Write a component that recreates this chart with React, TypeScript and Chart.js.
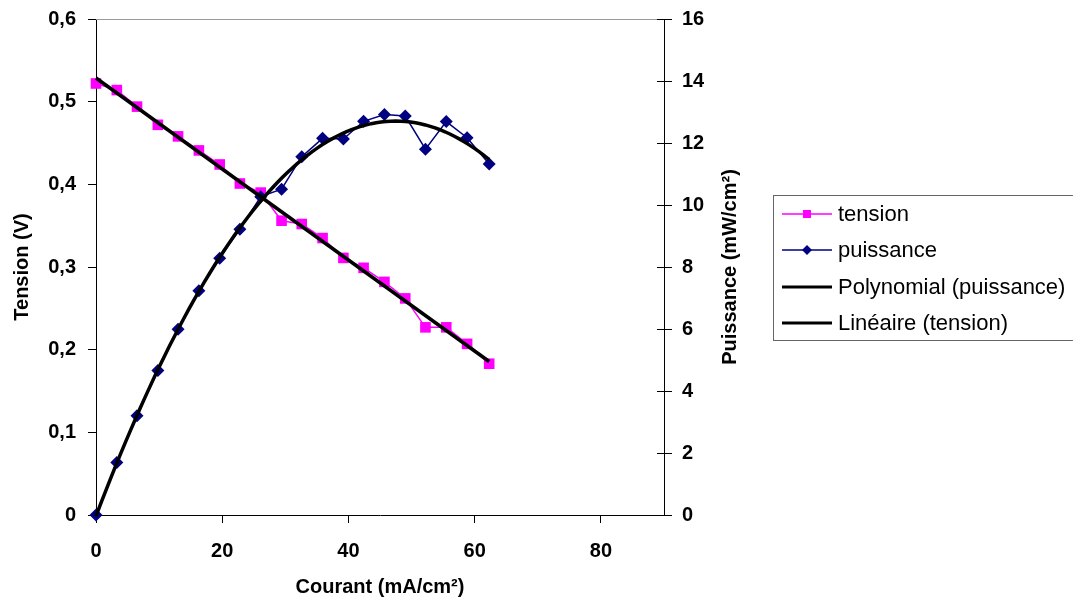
import React, { useEffect, useRef } from "react";
import { Chart, registerables } from "chart.js";

Chart.register(...registerables);

// ---- Data ----
const courant = [0, 3.3, 6.5, 9.8, 13.0, 16.3, 19.6, 22.8, 26.1, 29.4, 32.6, 35.9, 39.2, 42.4, 45.7, 49.0, 52.2, 55.5, 58.8, 62.3];
const tension = [0.522, 0.514, 0.494, 0.472, 0.458, 0.441, 0.424, 0.401, 0.390, 0.356, 0.352, 0.335, 0.311, 0.299, 0.282, 0.262, 0.227, 0.227, 0.207, 0.183];
const puissance = [0, 1.69, 3.20, 4.66, 5.99, 7.23, 8.28, 9.22, 10.27, 10.51, 11.56, 12.15, 12.13, 12.70, 12.92, 12.87, 11.80, 12.69, 12.17, 11.32];

const seriesLabels = ["tension", "puissance", "Polynomial (puissance)", "Linéaire (tension)"];
const xTitle = "Courant (mA/cm²)";
const yTitle = "Tension (V)";
const y1Title = "Puissance (mW/cm²)";
const xRange = [0, 90];
const yRange = [0, 0.6];
const y1Range = [0, 16];
const xStep = 20;
const yStep = 0.1;
const y1Step = 2;

// ---- Trendlines (least squares fits of the data above) ----
function linearFit(xs: number[], ys: number[]) {
  const n = xs.length;
  let sx = 0, sy = 0, sxx = 0, sxy = 0;
  for (let i = 0; i < n; i++) {
    sx += xs[i]; sy += ys[i]; sxx += xs[i] * xs[i]; sxy += xs[i] * ys[i];
  }
  const b = (n * sxy - sx * sy) / (n * sxx - sx * sx);
  const a = (sy - b * sx) / n;
  return (x: number) => a + b * x;
}

function quadFit(xs: number[], ys: number[]) {
  const S = [0, 0, 0, 0, 0];
  const T = [0, 0, 0];
  for (let i = 0; i < xs.length; i++) {
    let p = 1;
    for (let k = 0; k < 5; k++) { S[k] += p; if (k < 3) T[k] += p * ys[i]; p *= xs[i]; }
  }
  const M = [
    [S[0], S[1], S[2], T[0]],
    [S[1], S[2], S[3], T[1]],
    [S[2], S[3], S[4], T[2]],
  ];
  for (let c = 0; c < 3; c++) {
    let piv = c;
    for (let r = c + 1; r < 3; r++) if (Math.abs(M[r][c]) > Math.abs(M[piv][c])) piv = r;
    [M[c], M[piv]] = [M[piv], M[c]];
    for (let r = 0; r < 3; r++) {
      if (r === c) continue;
      const f = M[r][c] / M[c][c];
      for (let k = c; k < 4; k++) M[r][k] -= f * M[c][k];
    }
  }
  const c0 = M[0][3] / M[0][0], c1 = M[1][3] / M[1][1], c2 = M[2][3] / M[2][2];
  return (x: number) => c0 + c1 * x + c2 * x * x;
}

function sampleTrend(fn: (x: number) => number, xs: number[], n: number) {
  const lo = Math.min(...xs), hi = Math.max(...xs);
  const out: { x: number; y: number }[] = [];
  for (let i = 0; i <= n; i++) {
    const x = lo + ((hi - lo) * i) / n;
    out.push({ x, y: fn(x) });
  }
  return out;
}

const FONT = '"Liberation Sans", Arial, sans-serif';

const decorPlugin = {
  id: "decor",
  beforeDatasetsDraw(chart: any) {
    const { ctx, chartArea } = chart;
    ctx.save();
    ctx.strokeStyle = "#9a9a9a";
    ctx.lineWidth = 1;
    ctx.beginPath();
    ctx.moveTo(chartArea.left, chartArea.top + 0.5);
    ctx.lineTo(chartArea.right, chartArea.top + 0.5);
    ctx.stroke();
    // inner half of right-axis tick marks
    const s = chart.scales.y1;
    ctx.strokeStyle = "#000";
    s.ticks.forEach((t: any) => {
      const y = Math.round(s.getPixelForValue(t.value)) + 0.5;
      ctx.beginPath();
      ctx.moveTo(chartArea.right - 7, y);
      ctx.lineTo(chartArea.right, y);
      ctx.stroke();
    });
    ctx.restore();
  },
  afterDraw(chart: any) {
    const { ctx, chartArea } = chart;
    // right axis title, reading bottom-to-top
    ctx.save();
    ctx.translate(chartArea.right + 66, (chartArea.top + chartArea.bottom) / 2);
    ctx.rotate(-Math.PI / 2);
    ctx.font = `bold 20px ${FONT}`;
    ctx.fillStyle = "#000";
    ctx.textAlign = "center";
    ctx.textBaseline = "middle";
    ctx.fillText(y1Title, 0, 0);
    ctx.restore();

    const bx = chartArea.right + 109;
    const by = 195;
    const bw = 320;
    const bh = 145;
    const row0 = by + 19;
    const rowH = 36.4;
    ctx.save();
    ctx.strokeStyle = "#666";
    ctx.lineWidth = 1;
    ctx.strokeRect(bx + 0.5, by + 0.5, bw, bh);
    const ds = chart.data.datasets;
    const order = [0, 1, 2, 3];
    order.forEach((di, i) => {
      const d = ds[di];
      const y = Math.round(row0 + i * rowH);
      ctx.strokeStyle = d.borderColor;
      ctx.lineWidth = d.legendWidth;
      ctx.beginPath();
      ctx.moveTo(bx + 9, y);
      ctx.lineTo(bx + 59, y);
      ctx.stroke();
      const cx = bx + 34;
      if (d.pointStyle === "rect") {
        ctx.fillStyle = d.pointBackgroundColor;
        ctx.fillRect(cx - 4, y - 4, 8, 8);
      } else if (d.pointStyle === "rectRot") {
        ctx.fillStyle = d.pointBackgroundColor;
        ctx.beginPath();
        ctx.moveTo(cx, y - 5);
        ctx.lineTo(cx + 5, y);
        ctx.lineTo(cx, y + 5);
        ctx.lineTo(cx - 5, y);
        ctx.closePath();
        ctx.fill();
      }
      ctx.fillStyle = "#000";
      ctx.font = `22px ${FONT}`;
      ctx.textBaseline = "middle";
      ctx.textAlign = "left";
      ctx.fillText(d.label, bx + 65, y + 1);
    });
    ctx.restore();
  },
};

export default function App() {
  const ref = useRef<HTMLCanvasElement>(null);

  useEffect(() => {
    if (!ref.current) return;
    const linFn = linearFit(courant, tension);
    const polyFn = quadFit(courant, puissance);
    const tickFont = { family: FONT, size: 20, weight: "bold" as const };
    const titleFont = { family: FONT, size: 20, weight: "bold" as const };

    const chart = new Chart(ref.current, {
      type: "line",
      data: {
        datasets: [
          {
            label: seriesLabels[0],
            data: courant.map((x, i) => ({ x, y: tension[i] })),
            yAxisID: "y",
            borderColor: "#FF00FF",
            backgroundColor: "#FF00FF",
            pointBackgroundColor: "#FF00FF",
            pointBorderColor: "#FF00FF",
            pointStyle: "rect",
            pointRadius: 7.5,
            pointBorderWidth: 0,
            borderWidth: 1.5,
            tension: 0,
            clip: false,
            order: 3,
            legendWidth: 1.5,
          } as any,
          {
            label: seriesLabels[1],
            data: courant.map((x, i) => ({ x, y: puissance[i] })),
            yAxisID: "y1",
            borderColor: "#000080",
            backgroundColor: "#000080",
            pointBackgroundColor: "#000080",
            pointBorderColor: "#000080",
            pointStyle: "rectRot",
            pointRadius: 6.5,
            pointBorderWidth: 0,
            borderWidth: 1.5,
            tension: 0,
            clip: false,
            order: 2,
            legendWidth: 1.5,
          } as any,
          {
            label: seriesLabels[2],
            data: sampleTrend(polyFn, courant, 80),
            yAxisID: "y1",
            borderColor: "#000000",
            borderWidth: 3.5,
            pointRadius: 0,
            tension: 0,
            clip: false,
            order: 1,
            legendWidth: 3,
          } as any,
          {
            label: seriesLabels[3],
            data: sampleTrend(linFn, courant, 1),
            yAxisID: "y",
            borderColor: "#000000",
            borderWidth: 3.5,
            pointRadius: 0,
            tension: 0,
            clip: false,
            order: 0,
            legendWidth: 3,
          } as any,
        ],
      },
      options: {
        responsive: true,
        maintainAspectRatio: false,
        animation: false,
        events: [],
        layout: { padding: { left: 0, top: 19, right: 319, bottom: 0 } },
        plugins: { legend: { display: false }, tooltip: { enabled: false } },
        scales: {
          x: {
            type: "linear",
            position: "bottom",
            min: xRange[0],
            max: xRange[1],
            ticks: {
              stepSize: xStep,
              includeBounds: false,
              color: "#000",
              font: tickFont,
              padding: 16,
              maxRotation: 0,
              autoSkip: false,
            },
            grid: { drawOnChartArea: false, drawTicks: true, tickLength: 8, color: "#000", lineWidth: 1 },
            border: { display: true, color: "#000", width: 1 },
            title: { display: true, text: xTitle, color: "#000", font: titleFont, padding: { top: 0, bottom: 4 } },
            afterFit: (s: any) => { s.height = 88; s.paddingLeft = 0; s.paddingRight = 0; },
          },
          y: {
            type: "linear",
            position: "left",
            min: yRange[0],
            max: yRange[1],
            ticks: {
              stepSize: yStep,
              color: "#000",
              font: tickFont,
              padding: 12,
              callback: (v: any) => (Number(v) === 0 ? "0" : Number(v).toFixed(1).replace(".", ",")),
            },
            grid: { drawOnChartArea: false, drawTicks: true, tickLength: 8, color: "#000", lineWidth: 1 },
            border: { display: true, color: "#000", width: 1 },
            title: { display: true, text: yTitle, color: "#000", font: titleFont, padding: { top: 10, bottom: 0 } },
            afterFit: (s: any) => { s.width = 96; s.paddingTop = 0; s.paddingBottom = 0; },
          },
          y1: {
            type: "linear",
            position: "right",
            min: y1Range[0],
            max: y1Range[1],
            ticks: {
              stepSize: y1Step,
              color: "#000",
              font: tickFont,
              padding: 10,
              callback: (v: any) => String(v),
            },
            grid: { drawOnChartArea: false, drawTicks: true, tickLength: 8, color: "#000", lineWidth: 1 },
            border: { display: true, color: "#000", width: 1 },
            title: { display: false },
            afterFit: (s: any) => { s.width = 90; s.paddingTop = 0; s.paddingBottom = 0; },
          },
        },
      } as any,
      plugins: [decorPlugin],
    });
    return () => chart.destroy();
  }, []);

  return (
    <div style={{ position: "absolute", left: 0, top: 0, width: 1073, height: 603, background: "#fff" }}>
      <canvas ref={ref} />
    </div>
  );
}
